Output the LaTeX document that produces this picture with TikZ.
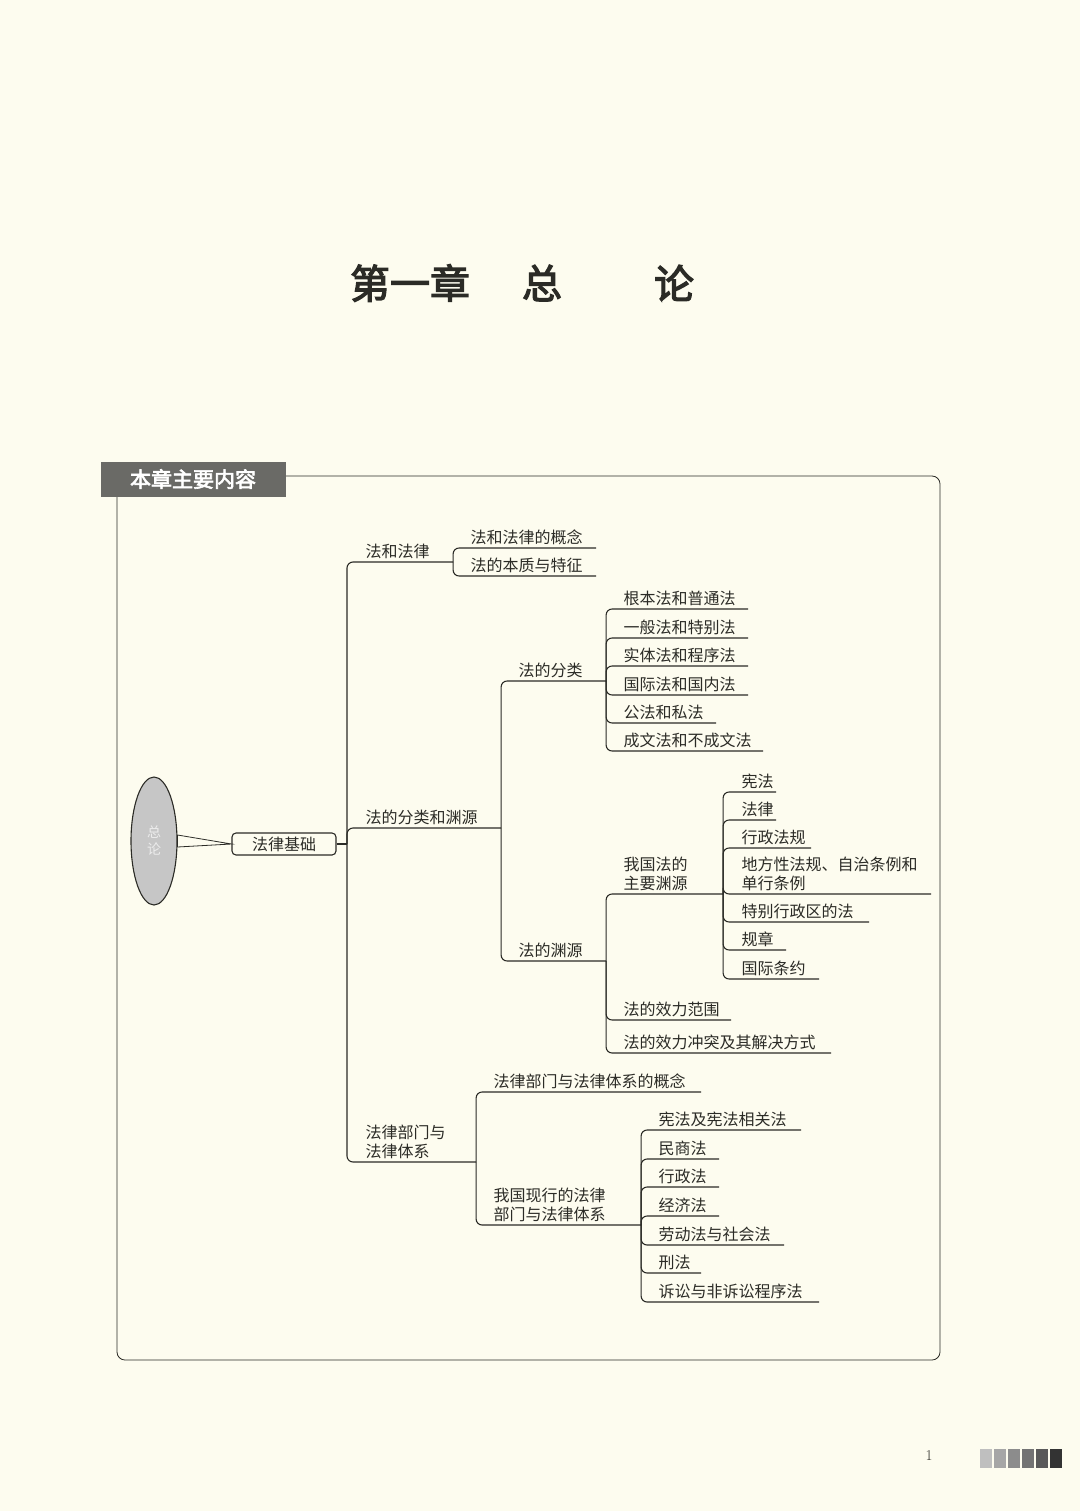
\documentclass[tikz,border=0pt]{standalone}
\usepackage{fontspec}
\newfontfamily\cjk{Noto Sans CJK SC}
\newfontfamily\cjkbold[FakeBold=3]{Noto Sans CJK SC}
\usetikzlibrary{shapes.geometric}
\definecolor{paper}{HTML}{FDFCEF}
\definecolor{ink}{HTML}{2B2B26}
\definecolor{tabgray}{HTML}{6A6A66}

\begin{document}
\begin{tikzpicture}[x=1pt, y=-1pt, line width=1.1pt, ink]
    \tikzstyle{lf} = [anchor=south west, inner xsep=0pt, inner ysep=2.5pt, align=left, font=\cjk\fontsize{16}{19}\selectfont, text=ink]
    \tikzstyle{conn} = [draw=ink, rounded corners=6pt]
    \useasboundingbox (0,0) rectangle (1080,1511);
    \fill[paper] (0,0) rectangle (1080,1511);
    % title
    \node[font=\cjkbold\fontsize{40}{40}\selectfont] (t1) at (410,283) {第一章};
    \node[font=\cjkbold\fontsize{40}{40}\selectfont] (t2) at (542,283) {总};
    \node[font=\cjkbold\fontsize{40}{40}\selectfont] (t3) at (674,283) {论};
    % frame
    \draw[line width=0.8pt, rounded corners=8pt] (285,476) -- (940,476) -- (940,1360) -- (117,1360) -- (117,496);
    \node[fill=tabgray, text=white, font=\cjkbold\fontsize{21}{21}\selectfont, minimum width=185pt, minimum height=35pt, anchor=north west, inner sep=0pt] (tab) at (100,461) {本章主要内容};
    % root
    \node[ellipse, draw=ink, fill=gray!45, minimum width=46pt, minimum height=128pt, inner sep=0pt, align=center, font=\cjk\fontsize{14}{17}\selectfont, text=white!85!gray] (root) at (154,841) {总\\论};
    \node[draw=ink, rounded corners=4pt, minimum width=104pt, minimum height=22pt, inner sep=0pt, font=\cjk\fontsize{16}{19}\selectfont] (base) at (284,844) {法律基础};
    \filldraw[line width=0.8pt, fill=paper] ([yshift=6pt]root.east) -- (base.west) -- ([yshift=-6pt]root.east) -- cycle;
    \coordinate (sp0) at (347,844);
    \draw[conn] (base.east) -- (sp0);
    % level 1
    \node[lf, text width=87pt] at (365,562) (law) {法和法律};
    \node[lf, text width=135pt] at (365,828) (src) {法的分类和渊源};
    \node[lf, text width=110pt] at (365,1162) (dept) {法律部门与\\法律体系};
    \foreach \c in {law, src, dept} \draw[conn] (sp0) |- (\c.south east);
    % 法和法律
    \node[lf, text width=125pt] at (470,548) (law1) {法和法律的概念};
    \node[lf, text width=125pt] at (470,576) (law2) {法的本质与特征};
    \foreach \c in {law1, law2} \draw[conn] (law.south east) |- (\c.south east);
    % 法的分类和渊源
    \node[lf, text width=87pt] at (518,681) (cls) {法的分类};
    \node[lf, text width=87pt] at (518,961) (yuan) {法的渊源};
    \foreach \c in {cls, yuan} \draw[conn] (src.south east) |- (\c.south east);
    \node[lf, text width=124pt] at (623,609) (cls1) {根本法和普通法};
    \node[lf, text width=124pt] at (623,638) (cls2) {一般法和特别法};
    \node[lf, text width=124pt] at (623,666) (cls3) {实体法和程序法};
    \node[lf, text width=124pt] at (623,695) (cls4) {国际法和国内法};
    \node[lf, text width=92pt] at (623,723) (cls5) {公法和私法};
    \node[lf, text width=139pt] at (623,751) (cls6) {成文法和不成文法};
    \foreach \c in {cls1, cls2, cls3, cls4, cls5, cls6} \draw[conn] (cls.south east) |- (\c.south east);
    \node[lf, text width=99pt] at (623,894) (main) {我国法的\\主要渊源};
    \node[lf, text width=107pt] at (623,1020) (eff) {法的效力范围};
    \node[lf, text width=207pt] at (623,1053) (conf) {法的效力冲突及其解决方式};
    \foreach \c in {main, eff, conf} \draw[conn] (yuan.south east) |- (\c.south east);
    \node[lf, text width=34pt] at (741,792) (m1) {宪法};
    \node[lf, text width=34pt] at (741,820) (m2) {法律};
    \node[lf, text width=69pt] at (741,848) (m3) {行政法规};
    \node[lf, text width=189pt] at (741,894) (m4) {地方性法规、自治条例和\\单行条例};
    \node[lf, text width=127pt] at (741,922) (m5) {特别行政区的法};
    \node[lf, text width=44pt] at (741,950) (m6) {规章};
    \node[lf, text width=77pt] at (741,979) (m7) {国际条约};
    \foreach \c in {m1, m2, m3, m4, m5, m6, m7} \draw[conn] (main.south east) |- (\c.south east);
    % 法律部门与法律体系
    \node[lf, text width=207pt] at (493,1092) (dep1) {法律部门与法律体系的概念};
    \node[lf, text width=147pt] at (493,1225) (dep2) {我国现行的法律\\部门与法律体系};
    \foreach \c in {dep1, dep2} \draw[conn] (dept.south east) |- (\c.south east);
    \node[lf, text width=142pt] at (658,1130) (d1) {宪法及宪法相关法};
    \node[lf, text width=60pt] at (658,1159) (d2) {民商法};
    \node[lf, text width=60pt] at (658,1187) (d3) {行政法};
    \node[lf, text width=60pt] at (658,1216) (d4) {经济法};
    \node[lf, text width=125pt] at (658,1245) (d5) {劳动法与社会法};
    \node[lf, text width=42pt] at (658,1273) (d6) {刑法};
    \node[lf, text width=160pt] at (658,1302) (d7) {诉讼与非诉讼程序法};
    \foreach \c in {d1, d2, d3, d4, d5, d6, d7} \draw[conn] (dep2.south east) |- (\c.south east);
    % page number
    \node[font=\fontsize{15}{15}\selectfont] (pg) at (929,1456) {1};
    \foreach \i/\g in {0/25, 1/35, 2/45, 3/55, 4/65, 5/80}
        \fill[black!\g] (980+\i*14,1449) rectangle (992+\i*14,1468);
\end{tikzpicture}
\end{document}
